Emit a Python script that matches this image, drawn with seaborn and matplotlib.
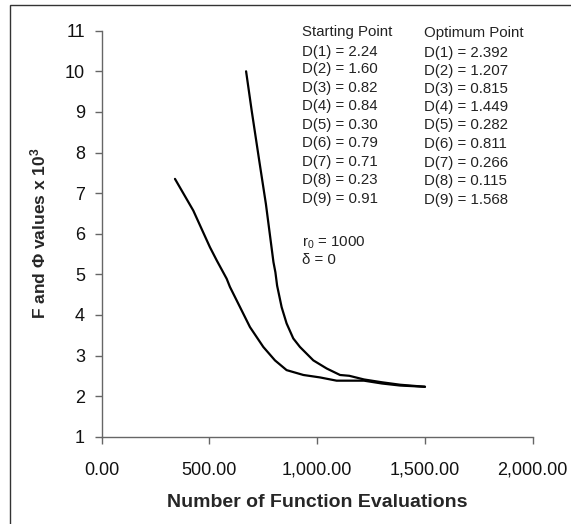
import matplotlib
matplotlib.use("Agg")
import matplotlib.pyplot as plt
import seaborn as sns
import pandas as pd
from matplotlib.patches import Rectangle

# Curve A (lower-left start)
evals_a = [340, 425, 502, 534, 580, 595, 642, 688, 750, 804, 858, 936, 1013, 1090, 1217, 1301, 1385, 1500]
vals_a = [7.35, 6.57, 5.67, 5.34, 4.89, 4.69, 4.19, 3.70, 3.21, 2.88, 2.64, 2.52, 2.46, 2.38, 2.38, 2.31, 2.26, 2.23]
# Curve B (upper start)
evals_b = [670, 696, 731, 762, 797, 806, 814, 835, 858, 889, 920, 982, 1044, 1106, 1149, 1217, 1301, 1385, 1500]
vals_b = [10.0, 9.03, 7.80, 6.73, 5.30, 5.05, 4.72, 4.19, 3.79, 3.42, 3.21, 2.88, 2.68, 2.52, 2.50, 2.41, 2.34, 2.28, 2.23]

start_labels = ["Starting Point", "D(1) = 2.24", "D(2) = 1.60", "D(3) = 0.82", "D(4) = 0.84",
                "D(5) = 0.30", "D(6) = 0.79", "D(7) = 0.71", "D(8) = 0.23", "D(9) = 0.91"]
opt_labels = ["Optimum Point", "D(1) = 2.392", "D(2) = 1.207", "D(3) = 0.815", "D(4) = 1.449",
              "D(5) = 0.282", "D(6) = 0.811", "D(7) = 0.266", "D(8) = 0.115", "D(9) = 1.568"]
param_labels = ["r$_0$ = 1000", "δ = 0"]

x_ticks = [0, 500, 1000, 1500, 2000]
x_tick_labels = ["0.00", "500.00", "1,000.00", "1,500.00", "2,000.00"]
y_ticks = list(range(1, 12))

sns.set_style("ticks")
plt.rcParams['font.family'] = ['Liberation Sans', 'DejaVu Sans']
plt.rcParams['mathtext.fontset'] = 'custom'
plt.rcParams['mathtext.rm'] = 'Liberation Sans'
plt.rcParams['mathtext.it'] = 'Liberation Sans'
plt.rcParams['mathtext.bf'] = 'Liberation Sans:bold'

W, H = 571, 524
fig = plt.figure(figsize=(W / 100, H / 100), dpi=100)
ax = fig.add_axes([101.7 / W, 1 - 436.7 / H, 431 / W, (436.7 - 30.7) / H])

df_a = pd.DataFrame({"x": evals_a, "y": vals_a})
df_b = pd.DataFrame({"x": evals_b, "y": vals_b})
sns.lineplot(data=df_a, x="x", y="y", ax=ax, color="black", lw=1.6, sort=False)
sns.lineplot(data=df_b, x="x", y="y", ax=ax, color="black", lw=1.6, sort=False)

ax.set_xlim(0, 2000)
ax.set_ylim(1, 11)
ax.set_xticks(x_ticks)
ax.set_xticklabels(x_tick_labels)
ax.set_yticks(y_ticks)
sns.despine(ax=ax)
for s in ["left", "bottom"]:
    ax.spines[s].set_color("#666666")
    ax.spines[s].set_linewidth(1.0)
ax.tick_params(axis="both", direction="out", length=5, width=1, color="#666666",
               labelsize=13, labelcolor="#111111")
ax.tick_params(axis="y", pad=7)
ax.tick_params(axis="x", pad=13)
ax.set_xlabel("Number of Function Evaluations", fontsize=14, fontweight="bold", labelpad=11)
ax.set_ylabel("F and Φ values x 10$^{\\mathbf{3}}$", fontsize=12.5, fontweight="bold", labelpad=12)

# texts
ys = [32.3, 51.7, 69.5, 87.8, 106.3, 124.5, 143, 161.5, 180, 199]
for lbl, y in zip(start_labels, ys):
    fig.text(301.7 / W, 1 - y / H, lbl, fontsize=10.8, color="#222222", va="center", ha="left")
for lbl, y in zip(opt_labels, ys):
    fig.text(424 / W, 1 - (y + 1) / H, lbl, fontsize=10.8, color="#222222", va="center", ha="left")
for lbl, y in zip(param_labels, [242.7, 259.5]):
    fig.text(301.7 / W, 1 - y / H, lbl, fontsize=10.8, color="#222222", va="center", ha="left")

# outer frame
fig.patches.append(Rectangle((10 / W, -0.1), 2, 1.1 - 5 / H, transform=fig.transFigure,
                             fill=False, edgecolor="#333333", lw=1.0))

fig.savefig("out.png", dpi=100)
